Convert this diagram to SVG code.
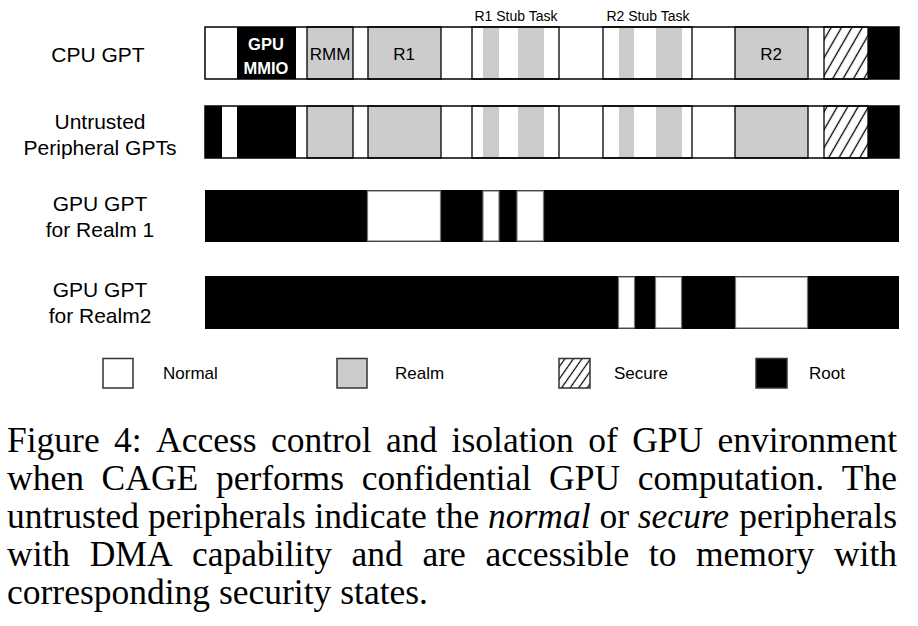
<svg xmlns="http://www.w3.org/2000/svg" width="918" height="626" viewBox="0 0 918 626">
<style>
.lbl{font-family:"Liberation Sans",Arial,sans-serif;font-size:21px;fill:#000;text-anchor:middle}
.seg{font-family:"Liberation Sans",Arial,sans-serif;font-size:17px;fill:#000;text-anchor:middle}
.mmio{font-family:"Liberation Sans",Arial,sans-serif;font-size:16.5px;font-weight:bold;fill:#fff;text-anchor:middle}
.stub{font-family:"Liberation Sans",Arial,sans-serif;font-size:14px;fill:#000;text-anchor:middle}
.leg{font-family:"Liberation Sans",Arial,sans-serif;font-size:17px;fill:#000}
.cap{font-family:"Liberation Serif","Times New Roman",serif;font-size:35.5px;fill:#000}
.gray{fill:#cccccc;stroke:#000;stroke-width:1.3}
.stripe{fill:#cccccc}
.wbox{fill:#fff;stroke:#000;stroke-width:1.3}
.blk{fill:#000}
.hat{fill:url(#hatch);stroke:#000;stroke-width:1.3}
.outer{fill:none;stroke:#000;stroke-width:1.5}
.hole{fill:#fff;stroke:#777;stroke-width:1.2}
.lbox{stroke:#333;stroke-width:1.5}
</style>
<defs>
<pattern id="hatch" patternUnits="userSpaceOnUse" width="9" height="9" patternTransform="rotate(30)">
<rect width="9" height="9" fill="#fff"/>
<line x1="4.5" y1="0" x2="4.5" y2="9" stroke="#000" stroke-width="1.3"/>
</pattern>
<pattern id="hatchs" patternUnits="userSpaceOnUse" width="7" height="7" patternTransform="rotate(35)">
<rect width="7" height="7" fill="#fff"/>
<line x1="3.5" y1="0" x2="3.5" y2="7" stroke="#000" stroke-width="1.2"/>
</pattern>
</defs>
<rect width="918" height="626" fill="#fff"/>

<g id="row-labels">
<text class="lbl" x="98" y="62">CPU GPT</text>
<text class="lbl" x="100" y="129">Untrusted</text>
<text class="lbl" x="100" y="155">Peripheral GPTs</text>
<text class="lbl" x="100" y="211">GPU GPT</text>
<text class="lbl" x="100" y="237">for Realm 1</text>
<text class="lbl" x="100" y="297">GPU GPT</text>
<text class="lbl" x="100" y="323">for Realm2</text>
</g>

<g id="stub-labels">
<text class="stub" x="516" y="21">R1 Stub Task</text>
<text class="stub" x="648" y="21">R2 Stub Task</text>
</g>

<g id="cpu-gpt">
<rect x="205" y="27" width="694" height="52" fill="#fff"/>
<rect class="blk" x="237" y="27" width="59" height="52"/>
<rect class="gray" x="307" y="27" width="46" height="52"/>
<rect class="gray" x="368" y="27" width="73" height="52"/>
<rect class="wbox" x="472" y="27" width="87" height="52"/>
<rect class="stripe" x="483" y="28" width="16" height="50"/>
<rect class="stripe" x="518" y="28" width="26" height="50"/>
<rect class="wbox" x="603" y="27" width="89" height="52"/>
<rect class="stripe" x="619" y="28" width="15" height="50"/>
<rect class="stripe" x="656" y="28" width="26" height="50"/>
<rect class="gray" x="735" y="27" width="73" height="52"/>
<rect class="hat" x="824" y="27" width="44" height="52"/>
<rect class="blk" x="868" y="27" width="31" height="52"/>
<rect class="outer" x="205" y="27" width="694" height="52"/>
<text class="mmio" x="266" y="50">GPU</text>
<text class="mmio" x="266" y="74">MMIO</text>
<text class="seg" x="330" y="60">RMM</text>
<text class="seg" x="404" y="60">R1</text>
<text class="seg" x="771" y="60">R2</text>
</g>

<g id="untrusted-gpts">
<rect x="205" y="106" width="694" height="52" fill="#fff"/>
<rect class="blk" x="205" y="106" width="17" height="52"/>
<rect class="blk" x="237" y="106" width="59" height="52"/>
<rect class="gray" x="307" y="106" width="46" height="52"/>
<rect class="gray" x="368" y="106" width="73" height="52"/>
<rect class="wbox" x="472" y="106" width="87" height="52"/>
<rect class="stripe" x="483" y="107" width="16" height="50"/>
<rect class="stripe" x="518" y="107" width="26" height="50"/>
<rect class="wbox" x="603" y="106" width="89" height="52"/>
<rect class="stripe" x="619" y="107" width="15" height="50"/>
<rect class="stripe" x="656" y="107" width="26" height="50"/>
<rect class="gray" x="735" y="106" width="73" height="52"/>
<rect class="hat" x="824" y="106" width="44" height="52"/>
<rect class="blk" x="868" y="106" width="31" height="52"/>
<rect class="outer" x="205" y="106" width="694" height="52"/>
</g>

<g id="gpu-gpt-realm1">
<rect class="blk" x="205" y="190" width="694" height="52"/>
<rect class="hole" x="367.5" y="191" width="73" height="50"/>
<rect class="hole" x="483" y="191" width="16" height="50"/>
<rect class="hole" x="517" y="191" width="26.5" height="50"/>
</g>

<g id="gpu-gpt-realm2">
<rect class="blk" x="205" y="276" width="694" height="53"/>
<rect class="hole" x="618.5" y="277" width="16" height="51"/>
<rect class="hole" x="655.5" y="277" width="26" height="51"/>
<rect class="hole" x="735.5" y="277" width="72" height="51"/>
</g>

<g id="legend">
<g id="legend-normal"><rect class="lbox" x="103" y="358.5" width="30" height="29.5" fill="#fff"/><text class="leg" x="163" y="379">Normal</text></g>
<g id="legend-realm"><rect class="lbox" x="337" y="358.5" width="30" height="29.5" fill="#cccccc"/><text class="leg" x="395" y="379">Realm</text></g>
<g id="legend-secure"><rect class="lbox" x="559" y="358.5" width="31" height="29.5" fill="url(#hatchs)"/><text class="leg" x="614" y="379">Secure</text></g>
<g id="legend-root"><rect class="lbox" x="756" y="358.5" width="31" height="29.5" fill="#000"/><text class="leg" x="809" y="379">Root</text></g>
</g>

<g id="caption">
<text class="cap" y="452"><tspan x="7">Figure</tspan><tspan x="114.1">4:</tspan><tspan x="156.1">Access</tspan><tspan x="271">control</tspan><tspan x="385.9">and</tspan><tspan x="451.6">isolation</tspan><tspan x="588.2">of</tspan><tspan x="632.2">GPU</tspan><tspan x="717.6">environment</tspan></text>
<text class="cap" y="490"><tspan x="7">when</tspan><tspan x="101.6">CAGE</tspan><tspan x="215.9">performs</tspan><tspan x="361.8">confidential</tspan><tspan x="549">GPU</tspan><tspan x="637.7">computation.</tspan><tspan x="841.8">The</tspan></text>
<text class="cap" y="528"><tspan x="7">untrusted</tspan><tspan x="148">peripherals</tspan><tspan x="314.5">indicate</tspan><tspan x="435.8">the</tspan><tspan x="488" font-style="italic">normal</tspan><tspan x="599.4">or</tspan><tspan x="637.8" font-style="italic">secure</tspan><tspan x="739.3">peripherals</tspan></text>
<text class="cap" y="566"><tspan x="7">with</tspan><tspan x="89.7">DMA</tspan><tspan x="192.1">capability</tspan><tspan x="351.6">and</tspan><tspan x="422.5">are</tspan><tspan x="485.4">accessible</tspan><tspan x="648.8">to</tspan><tspan x="696">memory</tspan><tspan x="833.9">with</tspan></text>
<text class="cap" x="7" y="604">corresponding security states.</text>
</g>
</svg>
